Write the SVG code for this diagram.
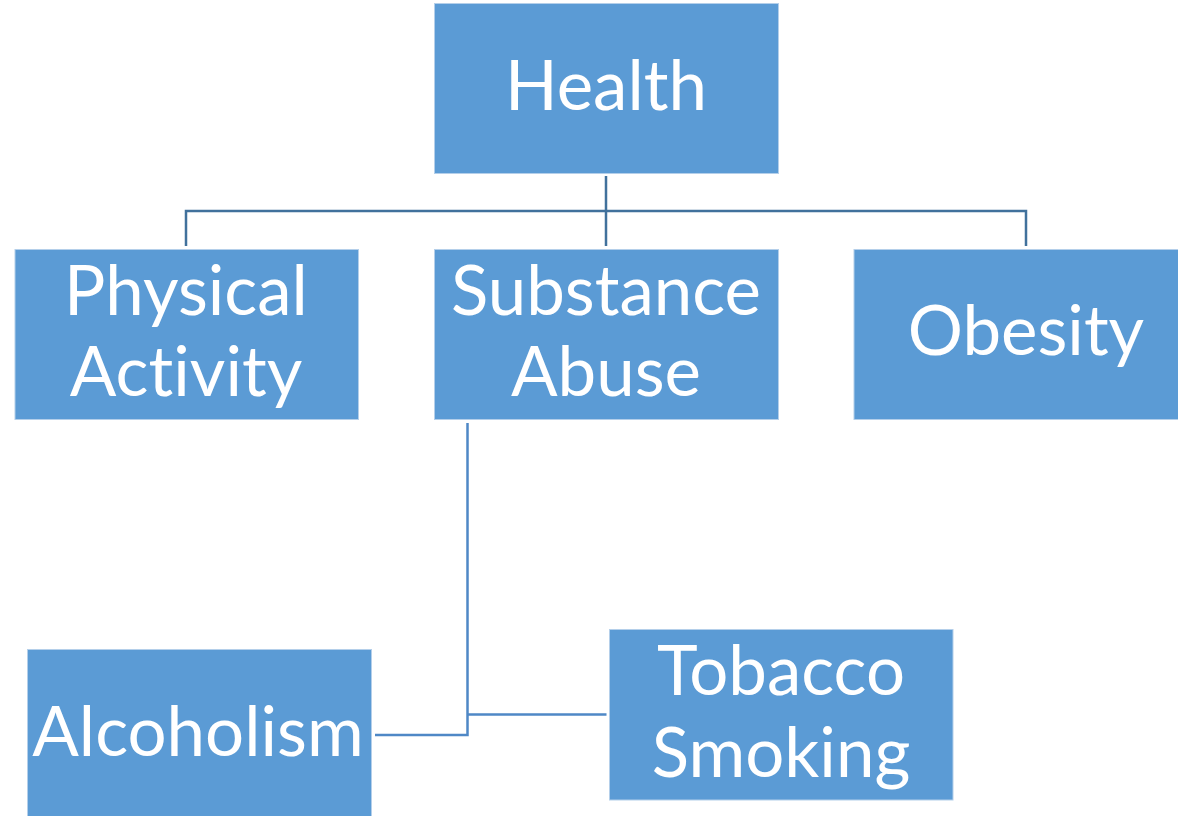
<svg xmlns="http://www.w3.org/2000/svg" width="1178" height="816" viewBox="0 0 1178 816">
<style>
.box{fill:#5B9BD5;stroke:#B4CFEA;stroke-width:1}
.lbl{fill:#FFFFFF;font-family:Lato,"Open Sans","Liberation Sans",sans-serif;font-size:69px;text-anchor:middle;font-variant-ligatures:none}
.c1{fill:none;stroke:#41719C;stroke-width:2.5}
.c2{fill:none;stroke:#4F88C6;stroke-width:2.5}
</style>
<rect width="1178" height="816" fill="#FFFFFF"/>
<g id="connectors">
<path class="c1" d="M606 176 V246 M186 246 V211 H1026 V246"/>
<path class="c2" d="M467.5 423 V735 H375 M467.5 714.5 H606.5"/>
</g>
<g id="health"><rect class="box" x="434.5" y="3.5" width="344" height="170"/><text class="lbl" x="606" y="110">Health</text></g>
<g id="physical"><rect class="box" x="15" y="249.5" width="343.5" height="170"/><text class="lbl" x="186" y="315">Physical</text><text class="lbl" x="186" y="396">Activity</text></g>
<g id="substance"><rect class="box" x="434.5" y="249.5" width="344" height="170"/><text class="lbl" x="606" y="315">Substance</text><text class="lbl" x="606" y="396">Abuse</text></g>
<g id="obesity"><rect class="box" x="854" y="249.5" width="330" height="170"/><text class="lbl" x="1026" y="355">Obesity</text></g>
<g id="alcoholism"><rect class="box" x="27.5" y="649.5" width="344" height="175"/><text class="lbl" x="198" y="756">Alcoholism</text></g>
<g id="tobacco"><rect class="box" x="609.5" y="629.5" width="343.5" height="170.5"/><text class="lbl" x="781" y="695">Tobacco</text><text class="lbl" x="781" y="777">Smoking</text></g>
</svg>
